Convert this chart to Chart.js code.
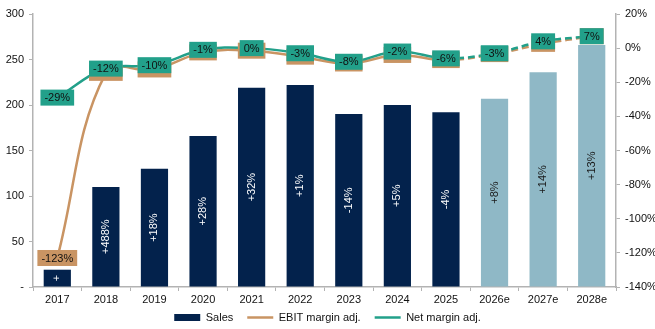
<!DOCTYPE html>
<html>
<head>
<meta charset="utf-8">
<script src="https://cdn.jsdelivr.net/npm/chart.js@4/dist/chart.umd.min.js"></script>
<style>
html,body{margin:0;padding:0;background:#fff;}
#wrap{width:655px;height:329px;}
</style>
</head>
<body>
<div id="wrap"><canvas id="c" width="655" height="329"></canvas></div>
<script>
const categories = ['2017','2018','2019','2020','2021','2022','2023','2024','2025','2026e','2027e','2028e'];
const sales = [19,110,130,166,219,222,190,200,192,207,236,266];
const salesGrowthLabels = ['+','+488%','+18%','+28%','+32%','+1%','-14%','+5%','-4%','+8%','+14%','+13%'];
const ebitMargin = [-123,-14.5,-12.5,-2.5,-1.5,-5,-9,-4,-7,-3.5,2.5,7];
const netMargin = [-29,-12,-10,-1,0,-3,-8,-2,-6,-3,4,7];
const leftTicks = [0,50,100,150,200,250,300];
const rightTicks = [-140,-120,-100,-80,-60,-40,-20,0,20];
const firstForecast = 9;

const NAVY = '#03224c';
const LIGHT = '#8fb8c6';
const TAN = '#c99463';
const TEAL = '#22a08a';
const AXIS = '#b3b3b3';
const FONT = "'Liberation Sans', Arial, sans-serif";

const labelPlugin = {
  id: 'labels',
  afterDatasetsDraw(chart) {
    const ctx = chart.ctx;
    ctx.save();
    ctx.font = '11px ' + FONT;
    const bm = chart.getDatasetMeta(0);
    bm.data.forEach((el, i) => {
      const cy = (el.y + el.base) / 2;
      ctx.save();
      ctx.translate(el.x, cy);
      ctx.rotate(-Math.PI / 2);
      ctx.textAlign = 'center';
      ctx.textBaseline = 'middle';
      ctx.fillStyle = i >= firstForecast ? '#1a1a1a' : '#ffffff';
      ctx.fillText(salesGrowthLabels[i], 0, 0);
      ctx.restore();
    });
    const drawBoxes = (dsIndex, values, color) => {
      const meta = chart.getDatasetMeta(dsIndex);
      meta.data.forEach((pt, i) => {
        const txt = Math.round(values[i]) + '%';
        const w = ctx.measureText(txt).width + 8;
        const h = 16;
        ctx.fillStyle = color;
        ctx.fillRect(pt.x - w / 2, pt.y - h / 2, w, h);
        ctx.fillStyle = '#111';
        ctx.textAlign = 'center';
        ctx.textBaseline = 'middle';
        ctx.fillText(txt, pt.x, pt.y + 0.5);
      });
    };
    drawBoxes(1, ebitMargin, TAN);
    drawBoxes(2, netMargin, TEAL);
    ctx.restore();
  }
};

// Compact legend box: keep horizontal item spacing but shrink vertical room
const legendFitPlugin = {
  id: 'legendFit',
  beforeUpdate(chart) {
    const lg = chart.legend;
    if (!lg || lg._patched) return;
    lg._patched = true;
    const origFit = lg.fit.bind(lg);
    lg.fit = function () { origFit(); this.height = 20; };
    const origDraw = lg.draw.bind(lg);
    lg.draw = function () {
      const t = this.top;
      this.top = t - 11;
      origDraw();
      this.top = t;
    };
  }
};

const dashSeg = ctx => ctx.p0DataIndex >= firstForecast - 1 ? [7, 4] : undefined;

new Chart(document.getElementById('c'), {
  type: 'bar',
  data: {
    labels: categories,
    datasets: [
      {
        type: 'bar',
        label: 'Sales',
        data: sales,
        yAxisID: 'y',
        backgroundColor: sales.map((v, i) => i >= firstForecast ? LIGHT : NAVY),
        borderWidth: 0,
        categoryPercentage: 1,
        barPercentage: 0.56,
        pointStyle: 'rect',
        order: 3
      },
      {
        type: 'line',
        label: 'EBIT margin adj.',
        data: ebitMargin,
        yAxisID: 'y1',
        borderColor: TAN,
        backgroundColor: TAN,
        borderWidth: 2.5,
        pointRadius: 0,
        pointStyle: 'line',
        tension: 0.4,
        segment: { borderDash: dashSeg },
        order: 2
      },
      {
        type: 'line',
        label: 'Net margin adj.',
        data: netMargin,
        yAxisID: 'y1',
        borderColor: TEAL,
        backgroundColor: TEAL,
        borderWidth: 2.5,
        pointRadius: 0,
        pointStyle: 'line',
        tension: 0.4,
        segment: { borderDash: dashSeg },
        order: 1
      }
    ]
  },
  options: {
    responsive: false,
    animation: false,
    devicePixelRatio: 1,
    layout: { padding: { top: 14, left: 0, right: 0, bottom: 0 } },
    plugins: {
      legend: {
        position: 'bottom',
        labels: {
          usePointStyle: true,
          pointStyleWidth: 26,
          boxWidth: 26,
          boxHeight: 7,
          padding: 14,
          color: '#111',
          font: { family: FONT, size: 11 },
          sort: (a, b) => a.datasetIndex - b.datasetIndex
        }
      },
      tooltip: { enabled: false }
    },
    scales: {
      x: {
        offset: true,
        grid: { display: true, drawOnChartArea: false, drawTicks: true, tickLength: 4, color: AXIS, offset: true },
        border: { display: true, color: AXIS, width: 1.5 },
        ticks: { color: '#111', font: { family: FONT, size: 11 }, padding: 2, maxRotation: 0, autoSkip: false },
        afterFit(s) { s.height = 22; }
      },
      y: {
        position: 'left',
        min: 0, max: 300,
        afterBuildTicks(s) { s.ticks = leftTicks.map(v => ({ value: v })); },
        grid: { drawOnChartArea: false, drawTicks: true, tickLength: 4, color: AXIS },
        border: { display: true, color: AXIS, width: 1.5 },
        ticks: { color: '#111', font: { family: FONT, size: 11 }, padding: 5, callback: v => v === 0 ? '-' : String(v) },
        afterFit(s) { s.width = 33; }
      },
      y1: {
        position: 'right',
        min: -140, max: 20,
        afterBuildTicks(s) { s.ticks = rightTicks.map(v => ({ value: v })); },
        grid: { drawOnChartArea: false, drawTicks: true, tickLength: 4, color: AXIS },
        border: { display: true, color: AXIS, width: 1.5 },
        ticks: { color: '#111', font: { family: FONT, size: 11 }, padding: 5, callback: v => v + '%' },
        afterFit(s) { s.width = 39; }
      }
    }
  },
  plugins: [labelPlugin, legendFitPlugin]
});
</script>
</body>
</html>
